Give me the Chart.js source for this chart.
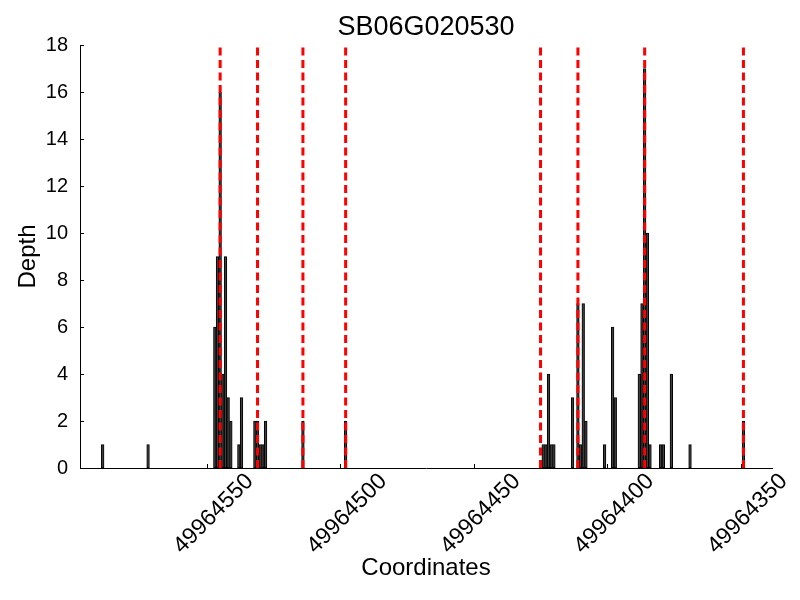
<!DOCTYPE html>
<html>
<head>
<meta charset="utf-8">
<script src="https://cdn.jsdelivr.net/npm/chart.js@4"></script>
<style>
  body { margin: 0; background: #fff; }
</style>
</head>
<body>
<canvas id="depthChart" width="800" height="600"></canvas>
<script>
// read coordinates (bar positions) and read depth
const coords = [
    49964589, 49964572,
    49964547, 49964546, 49964545, 49964544, 49964543, 49964542, 49964541,
    49964538, 49964537,
    49964532, 49964531, 49964530, 49964529, 49964528,
    49964514, 49964498,
    49964424, 49964423, 49964422, 49964421, 49964420,
    49964413, 49964411, 49964410, 49964409, 49964408,
    49964401, 49964398, 49964397,
    49964388, 49964387, 49964386, 49964385, 49964384,
    49964380, 49964379, 49964376, 49964369, 49964349
];
const depths = [
    1, 1,
    6, 9, 16, 4, 9, 3, 2,
    1, 3,
    2, 2, 1, 1, 2,
    2, 2,
    1, 1, 4, 1, 1,
    3, 7, 1, 7, 2,
    1, 6, 3,
    4, 7, 17, 10, 1,
    1, 1, 4, 1, 2
];
// red dashed markers
const markers = [49964545, 49964531, 49964514, 49964498, 49964425, 49964411, 49964386, 49964349];
const xTicks = [49964550, 49964500, 49964450, 49964400, 49964350];
const yMax = 18;
const chartTitle = 'SB06G020530';

Chart.defaults.color = '#000';
Chart.defaults.font.family = '"Liberation Sans", Arial, sans-serif';

// inward tick marks + title centred over the plot area
const extras = {
    id: 'extras',
    afterDraw(chart) {
        const { ctx, chartArea } = chart;
        const x = chart.scales.x, y = chart.scales.y;
        ctx.save();
        ctx.strokeStyle = '#000';
        ctx.lineWidth = 1;
        ctx.beginPath();
        y.ticks.forEach(t => {
            const py = Math.round(y.getPixelForValue(t.value)) + 0.5;
            ctx.moveTo(chartArea.left, py);
            ctx.lineTo(chartArea.left + 4, py);
        });
        x.ticks.forEach(t => {
            const px = Math.round(x.getPixelForValue(t.value)) + 0.5;
            ctx.moveTo(px, chartArea.bottom);
            ctx.lineTo(px, chartArea.bottom - 4);
        });
        ctx.stroke();
        ctx.fillStyle = '#000';
        ctx.font = '27px "Liberation Sans", Arial, sans-serif';
        ctx.textAlign = 'center';
        ctx.textBaseline = 'middle';
        ctx.fillText(chartTitle, (chartArea.left + chartArea.right) / 2, 28);
        ctx.restore();
    }
};

const markerSets = markers.map(m => ({
    type: 'line',
    data: [{ x: m, y: 0 }, { x: m, y: yMax }],
    borderColor: '#ff0000',
    borderWidth: 3,
    borderDash: [8, 4.5],
    pointRadius: 0,
    order: 1
}));

const ctx = document.getElementById('depthChart').getContext('2d');
new Chart(ctx, {
    data: {
        datasets: [{
            type: 'bar',
            data: coords.map((c, i) => ({ x: c, y: depths[i] })),
            backgroundColor: '#404040',
            borderColor: '#000',
            borderWidth: 1,
            borderSkipped: false,
            barPercentage: 1,
            categoryPercentage: 1,
            order: 2
        }, ...markerSets]
    },
    options: {
        responsive: false,
        animation: false,
        layout: { padding: { left: 0, right: 28, top: 45, bottom: 0 } },
        plugins: {
            legend: { display: false },
            tooltip: { enabled: false },
            title: { display: false }
        },
        scales: {
            x: {
                type: 'linear',
                reverse: true,
                offset: false,
                min: 49964338.3,
                max: 49964597.5,
                afterBuildTicks: s => { s.ticks = xTicks.map(v => ({ value: v })); },
                afterFit: s => { s.height = 132; },
                grid: { display: false, drawTicks: false },
                border: { color: '#000', width: 1 },
                ticks: {
                    autoSkip: false,
                    minRotation: 45,
                    maxRotation: 45,
                    labelOffset: 43,
                    padding: 0,
                    font: { size: 23 },
                    callback: v => String(v)
                },
                title: {
                    display: true,
                    text: 'Coordinates',
                    font: { size: 24 },
                    padding: { top: 0, bottom: 17 }
                }
            },
            y: {
                min: 0,
                max: yMax,
                afterFit: s => { s.width = 80; },
                grid: { display: false, drawTicks: false },
                border: { color: '#000', width: 1 },
                ticks: { stepSize: 2, padding: 12, font: { size: 20 } },
                title: {
                    display: true,
                    text: 'Depth',
                    font: { size: 24 },
                    padding: { top: 14, bottom: 0 }
                }
            }
        }
    },
    plugins: [extras]
});
</script>
</body>
</html>
